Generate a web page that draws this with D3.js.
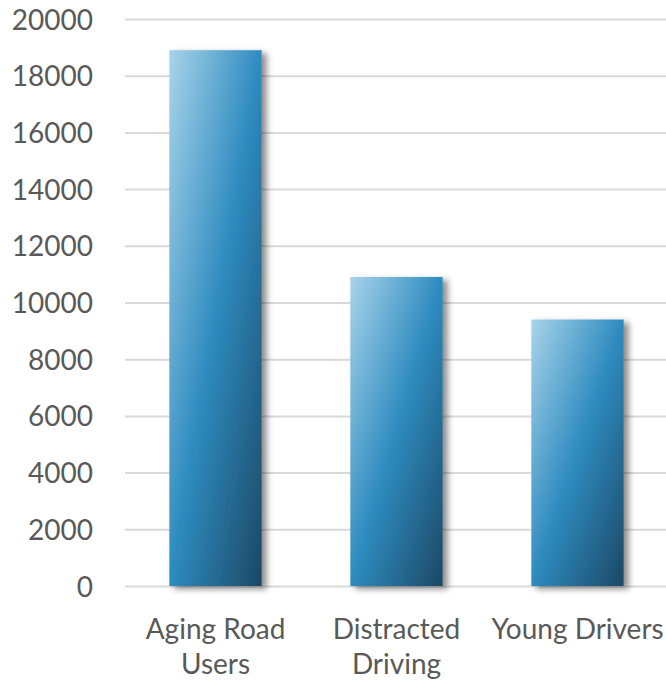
<!DOCTYPE html>
<html>
<head>
<meta charset="utf-8">
<script src="https://cdn.jsdelivr.net/npm/d3@7"></script>
<style>
  html, body { margin: 0; padding: 0; background: #ffffff; }
  svg { display: block; }
  text { font-family: Lato, "Open Sans", sans-serif; fill: #595959; }
</style>
</head>
<body>
<svg id="chart" width="666" height="683"></svg>
<script>
// Road safety categories and their totals
const categories = ["Aging Road Users", "Distracted Driving", "Young Drivers"];
const values = [18900, 10900, 9400];
const yTicks = [0, 2000, 4000, 6000, 8000, 10000, 12000, 14000, 16000, 18000, 20000];

const width = 666, height = 683;
const plot = { left: 125, right: 668, top: 19, bottom: 586 };

const svg = d3.select("#chart");

const x = d3.scaleBand()
  .domain(categories)
  .range([plot.left, plot.right])
  .paddingInner(0.49)
  .paddingOuter(0.245);

const y = d3.scaleLinear()
  .domain([0, 20000])
  .range([plot.bottom, plot.top]);

// Bar fill: light top-left through mid blue to dark bottom-right
const defs = svg.append("defs");
const grad = defs.append("linearGradient")
  .attr("id", "barFill")
  .attr("x1", 0).attr("y1", 0).attr("x2", 1).attr("y2", 1);
grad.append("stop").attr("offset", 0).attr("stop-color", "#a8d4ea");
grad.append("stop").attr("offset", 0.5).attr("stop-color", "#2e8bbf");
grad.append("stop").attr("offset", 1).attr("stop-color", "#1c4865");

const shadow = defs.append("filter")
  .attr("id", "barShadow")
  .attr("x", "-20%").attr("y", "-10%")
  .attr("width", "150%").attr("height", "130%");
shadow.append("feDropShadow")
  .attr("dx", 5).attr("dy", 3)
  .attr("stdDeviation", 3)
  .attr("flood-color", "#000")
  .attr("flood-opacity", 0.45);

// Horizontal gridlines and y-axis labels
const yAxis = d3.axisLeft(y)
  .tickValues(yTicks)
  .tickSize(-(plot.right - plot.left))
  .tickPadding(32)
  .tickFormat(d3.format("d"));

const gy = svg.append("g")
  .attr("transform", `translate(${plot.left},0)`)
  .call(yAxis);
gy.select(".domain").remove();
gy.selectAll(".tick line")
  .attr("stroke", "#d9d9d9")
  .attr("stroke-width", 2);
gy.selectAll(".tick text")
  .attr("font-size", 28)
  .attr("fill", "#595959")
  .attr("dy", "0.36em");

// Bars
svg.append("g")
  .selectAll("rect")
  .data(categories)
  .join("rect")
  .attr("x", d => x(d))
  .attr("y", (d, i) => y(values[i]))
  .attr("width", x.bandwidth())
  .attr("height", (d, i) => y(0) - y(values[i]))
  .attr("fill", "url(#barFill)")
  .attr("filter", "url(#barShadow)");

// Category labels, wrapped to the band width
const xAxis = d3.axisBottom(x).tickSize(0).tickPadding(0);
const gx = svg.append("g")
  .attr("transform", `translate(0,${plot.bottom})`)
  .call(xAxis);
gx.select(".domain").remove();
gx.selectAll(".tick text")
  .attr("font-size", 28)
  .attr("fill", "#595959")
  .attr("y", 53)
  .attr("dy", 0)
  .each(function (d) {
    const text = d3.select(this);
    const words = d.split(" ");
    const maxW = x.step() + 4;
    text.text(null);
    let line = [];
    let lineNo = 0;
    let tspan = text.append("tspan").attr("x", 0).attr("dy", 0);
    words.forEach(w => {
      line.push(w);
      tspan.text(line.join(" "));
      if (tspan.node().getComputedTextLength() > maxW && line.length > 1) {
        line.pop();
        tspan.text(line.join(" "));
        line = [w];
        lineNo += 1;
        tspan = text.append("tspan").attr("x", 0).attr("dy", 35).text(w);
      }
    });
  });
</script>
</body>
</html>
